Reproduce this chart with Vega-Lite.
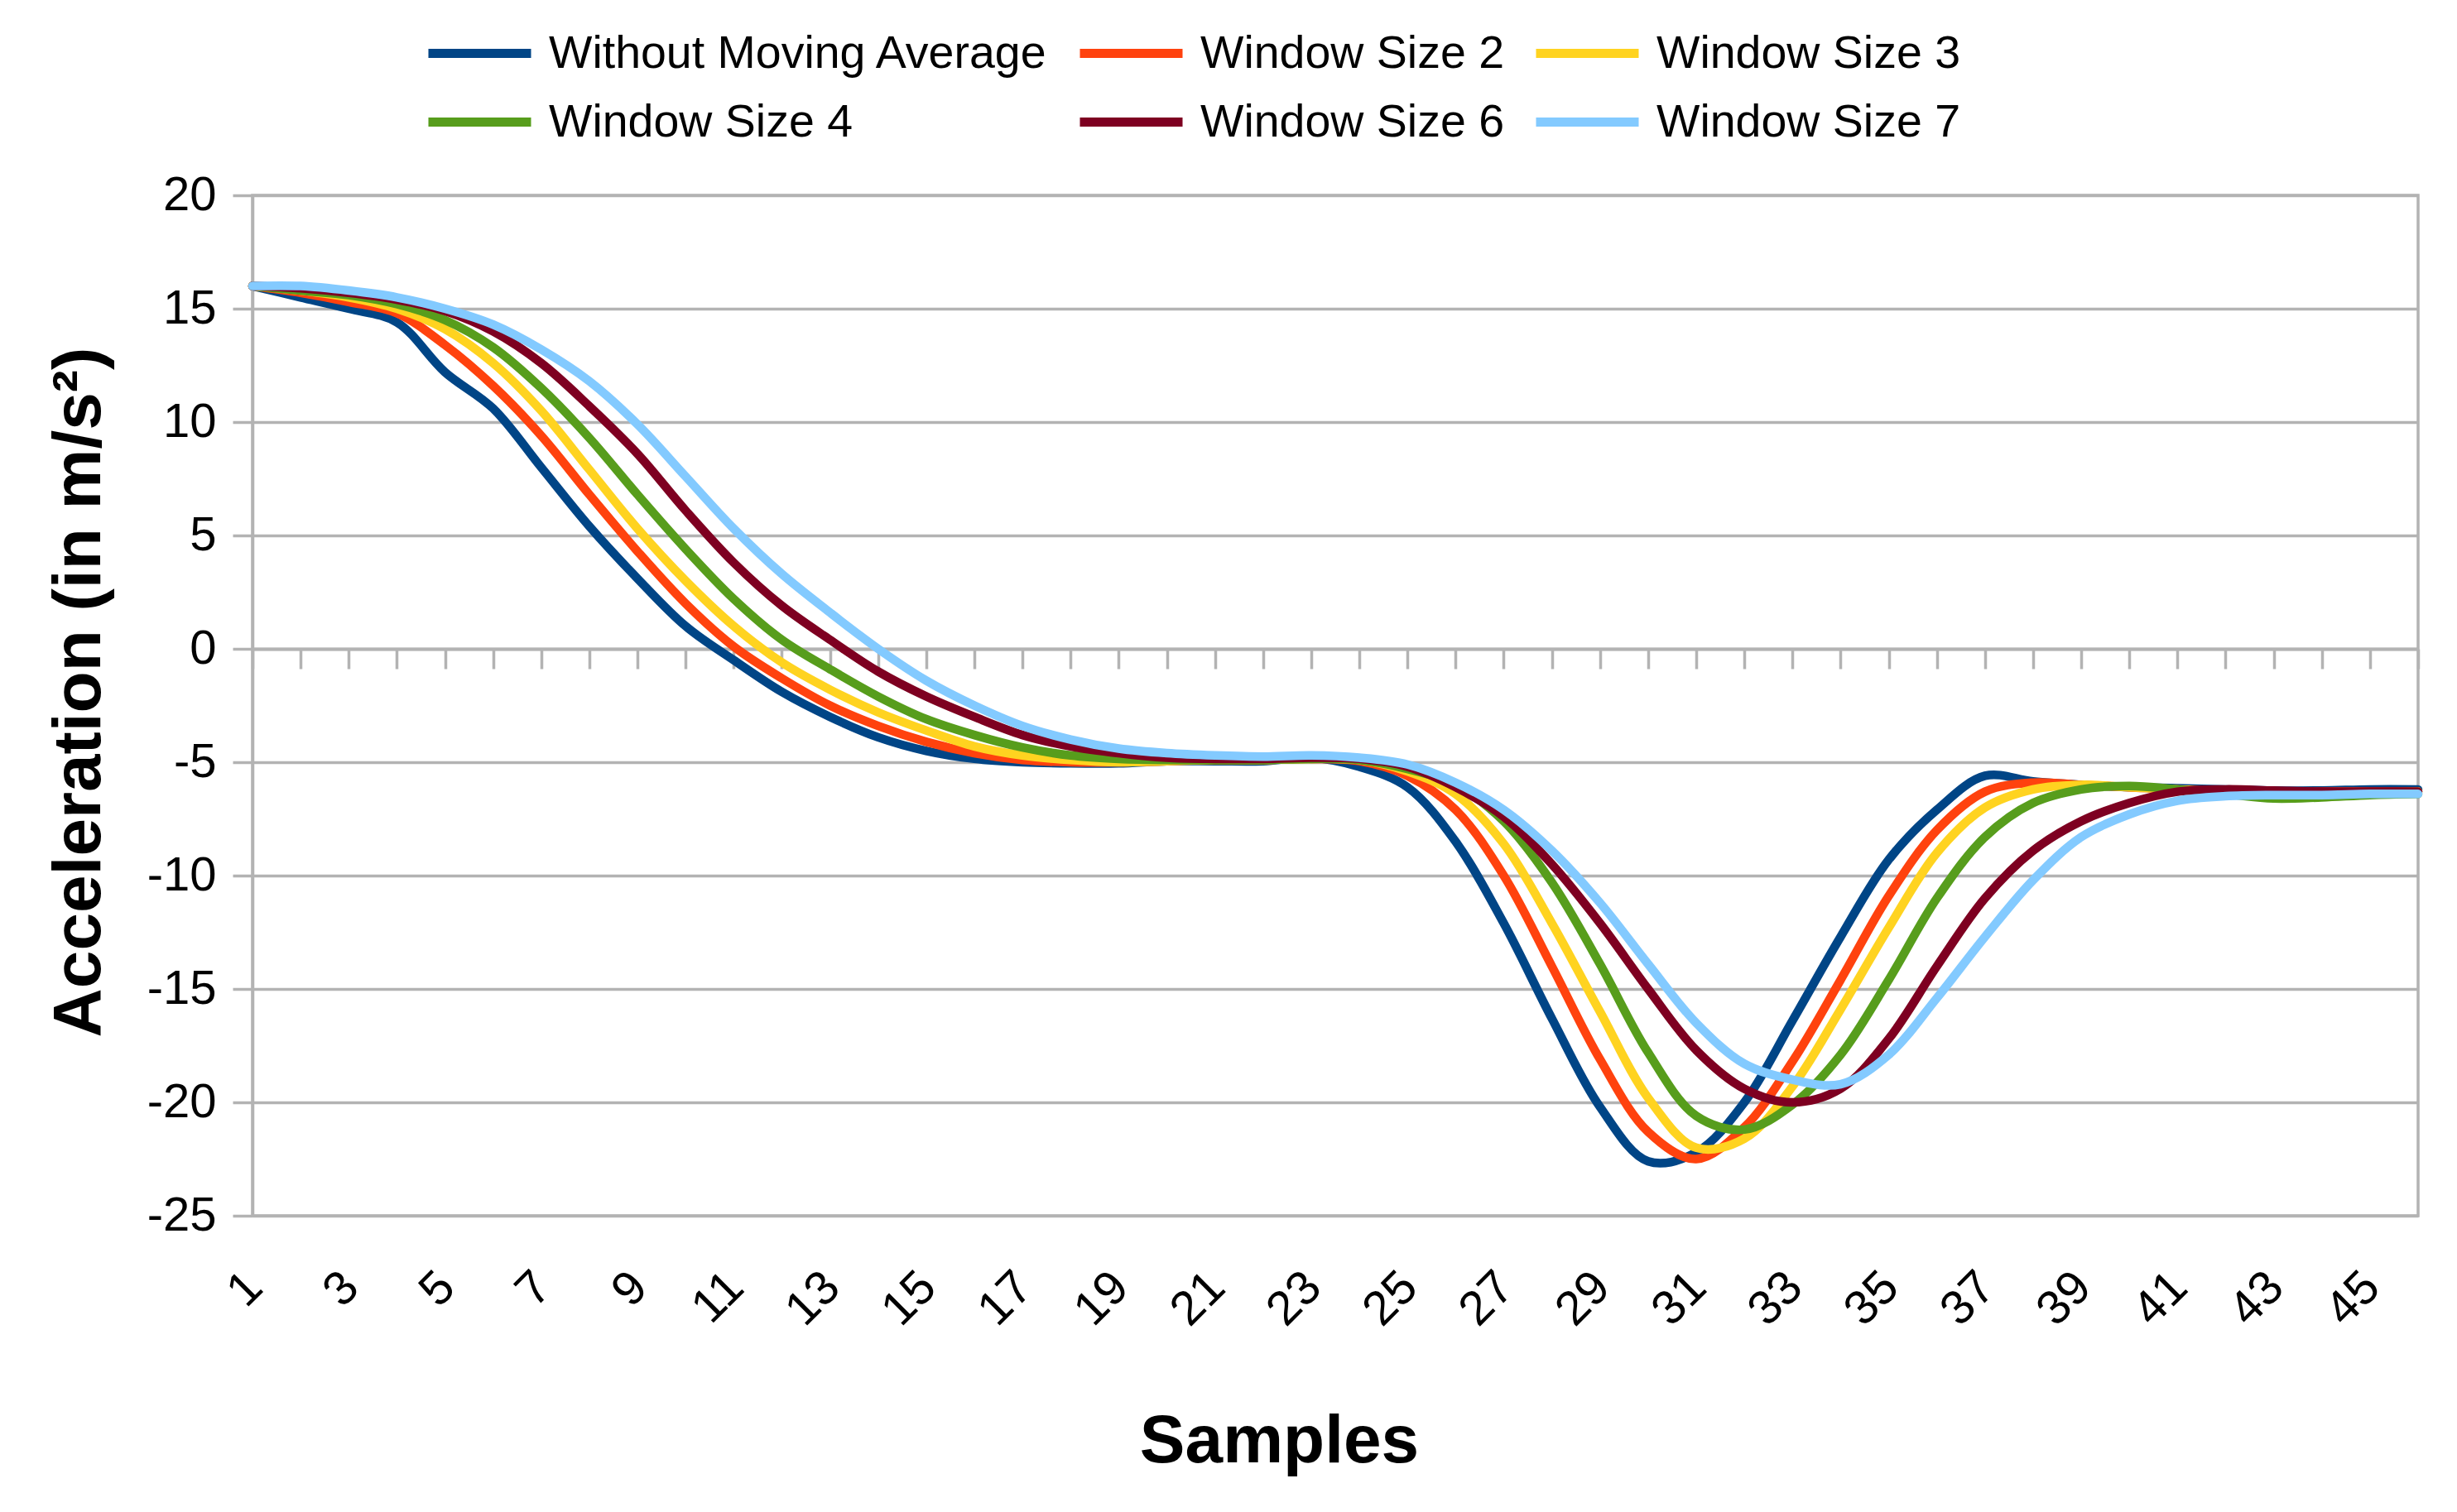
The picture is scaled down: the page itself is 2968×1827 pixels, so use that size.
{
  "$schema": "https://vega.github.io/schema/vega-lite/v6.json",
  "width": 2616,
  "height": 1233,
  "autosize": {"type": "none"},
  "padding": {"left": 305, "top": 236, "right": 47, "bottom": 358},
  "background": "white",
  "datasets": {
    "accel": [
      {"sample": 1, "series": "Without Moving Average", "accel": 16.0},
      {"sample": 2, "series": "Without Moving Average", "accel": 15.5},
      {"sample": 3, "series": "Without Moving Average", "accel": 15.0},
      {"sample": 4, "series": "Without Moving Average", "accel": 14.4},
      {"sample": 5, "series": "Without Moving Average", "accel": 12.2},
      {"sample": 6, "series": "Without Moving Average", "accel": 10.6},
      {"sample": 7, "series": "Without Moving Average", "accel": 8.0},
      {"sample": 8, "series": "Without Moving Average", "accel": 5.4},
      {"sample": 9, "series": "Without Moving Average", "accel": 3.1},
      {"sample": 10, "series": "Without Moving Average", "accel": 1.0},
      {"sample": 11, "series": "Without Moving Average", "accel": -0.5},
      {"sample": 12, "series": "Without Moving Average", "accel": -1.9},
      {"sample": 13, "series": "Without Moving Average", "accel": -3.0},
      {"sample": 14, "series": "Without Moving Average", "accel": -3.9},
      {"sample": 15, "series": "Without Moving Average", "accel": -4.5},
      {"sample": 16, "series": "Without Moving Average", "accel": -4.85},
      {"sample": 17, "series": "Without Moving Average", "accel": -5.0},
      {"sample": 18, "series": "Without Moving Average", "accel": -5.05},
      {"sample": 19, "series": "Without Moving Average", "accel": -5.05},
      {"sample": 20, "series": "Without Moving Average", "accel": -4.95},
      {"sample": 21, "series": "Without Moving Average", "accel": -4.95},
      {"sample": 22, "series": "Without Moving Average", "accel": -4.95},
      {"sample": 23, "series": "Without Moving Average", "accel": -4.8},
      {"sample": 24, "series": "Without Moving Average", "accel": -5.2},
      {"sample": 25, "series": "Without Moving Average", "accel": -6.1},
      {"sample": 26, "series": "Without Moving Average", "accel": -8.5},
      {"sample": 27, "series": "Without Moving Average", "accel": -12.1},
      {"sample": 28, "series": "Without Moving Average", "accel": -16.3},
      {"sample": 29, "series": "Without Moving Average", "accel": -20.2},
      {"sample": 30, "series": "Without Moving Average", "accel": -22.6},
      {"sample": 31, "series": "Without Moving Average", "accel": -22.2},
      {"sample": 32, "series": "Without Moving Average", "accel": -20.0},
      {"sample": 33, "series": "Without Moving Average", "accel": -16.4},
      {"sample": 34, "series": "Without Moving Average", "accel": -12.7},
      {"sample": 35, "series": "Without Moving Average", "accel": -9.3},
      {"sample": 36, "series": "Without Moving Average", "accel": -7.1},
      {"sample": 37, "series": "Without Moving Average", "accel": -5.6},
      {"sample": 38, "series": "Without Moving Average", "accel": -5.85},
      {"sample": 39, "series": "Without Moving Average", "accel": -6.0},
      {"sample": 40, "series": "Without Moving Average", "accel": -6.1},
      {"sample": 41, "series": "Without Moving Average", "accel": -6.15},
      {"sample": 42, "series": "Without Moving Average", "accel": -6.2},
      {"sample": 43, "series": "Without Moving Average", "accel": -6.25},
      {"sample": 44, "series": "Without Moving Average", "accel": -6.25},
      {"sample": 45, "series": "Without Moving Average", "accel": -6.2},
      {"sample": 46, "series": "Without Moving Average", "accel": -6.2},

      {"sample": 1, "series": "Window Size 2", "accel": 16.0},
      {"sample": 2, "series": "Window Size 2", "accel": 15.7},
      {"sample": 3, "series": "Window Size 2", "accel": 15.3},
      {"sample": 4, "series": "Window Size 2", "accel": 14.8},
      {"sample": 5, "series": "Window Size 2", "accel": 13.4},
      {"sample": 6, "series": "Window Size 2", "accel": 11.6},
      {"sample": 7, "series": "Window Size 2", "accel": 9.4},
      {"sample": 8, "series": "Window Size 2", "accel": 6.8},
      {"sample": 9, "series": "Window Size 2", "accel": 4.3},
      {"sample": 10, "series": "Window Size 2", "accel": 2.0},
      {"sample": 11, "series": "Window Size 2", "accel": 0.1},
      {"sample": 12, "series": "Window Size 2", "accel": -1.3},
      {"sample": 13, "series": "Window Size 2", "accel": -2.5},
      {"sample": 14, "series": "Window Size 2", "accel": -3.4},
      {"sample": 15, "series": "Window Size 2", "accel": -4.1},
      {"sample": 16, "series": "Window Size 2", "accel": -4.6},
      {"sample": 17, "series": "Window Size 2", "accel": -4.9},
      {"sample": 18, "series": "Window Size 2", "accel": -5.0},
      {"sample": 19, "series": "Window Size 2", "accel": -5.0},
      {"sample": 20, "series": "Window Size 2", "accel": -4.95},
      {"sample": 21, "series": "Window Size 2", "accel": -4.9},
      {"sample": 22, "series": "Window Size 2", "accel": -4.9},
      {"sample": 23, "series": "Window Size 2", "accel": -4.85},
      {"sample": 24, "series": "Window Size 2", "accel": -4.95},
      {"sample": 25, "series": "Window Size 2", "accel": -5.6},
      {"sample": 26, "series": "Window Size 2", "accel": -7.1},
      {"sample": 27, "series": "Window Size 2", "accel": -10.0},
      {"sample": 28, "series": "Window Size 2", "accel": -14.0},
      {"sample": 29, "series": "Window Size 2", "accel": -18.1},
      {"sample": 30, "series": "Window Size 2", "accel": -21.3},
      {"sample": 31, "series": "Window Size 2", "accel": -22.5},
      {"sample": 32, "series": "Window Size 2", "accel": -21.1},
      {"sample": 33, "series": "Window Size 2", "accel": -18.2},
      {"sample": 34, "series": "Window Size 2", "accel": -14.6},
      {"sample": 35, "series": "Window Size 2", "accel": -10.9},
      {"sample": 36, "series": "Window Size 2", "accel": -8.0},
      {"sample": 37, "series": "Window Size 2", "accel": -6.3},
      {"sample": 38, "series": "Window Size 2", "accel": -5.9},
      {"sample": 39, "series": "Window Size 2", "accel": -6.0},
      {"sample": 40, "series": "Window Size 2", "accel": -6.1},
      {"sample": 41, "series": "Window Size 2", "accel": -6.2},
      {"sample": 42, "series": "Window Size 2", "accel": -6.25},
      {"sample": 43, "series": "Window Size 2", "accel": -6.3},
      {"sample": 44, "series": "Window Size 2", "accel": -6.3},
      {"sample": 45, "series": "Window Size 2", "accel": -6.3},
      {"sample": 46, "series": "Window Size 2", "accel": -6.3},

      {"sample": 1, "series": "Window Size 3", "accel": 16.0},
      {"sample": 2, "series": "Window Size 3", "accel": 15.8},
      {"sample": 3, "series": "Window Size 3", "accel": 15.5},
      {"sample": 4, "series": "Window Size 3", "accel": 15.0},
      {"sample": 5, "series": "Window Size 3", "accel": 14.1},
      {"sample": 6, "series": "Window Size 3", "accel": 12.6},
      {"sample": 7, "series": "Window Size 3", "accel": 10.5},
      {"sample": 8, "series": "Window Size 3", "accel": 7.9},
      {"sample": 9, "series": "Window Size 3", "accel": 5.3},
      {"sample": 10, "series": "Window Size 3", "accel": 3.0},
      {"sample": 11, "series": "Window Size 3", "accel": 1.0},
      {"sample": 12, "series": "Window Size 3", "accel": -0.6},
      {"sample": 13, "series": "Window Size 3", "accel": -1.8},
      {"sample": 14, "series": "Window Size 3", "accel": -2.8},
      {"sample": 15, "series": "Window Size 3", "accel": -3.6},
      {"sample": 16, "series": "Window Size 3", "accel": -4.3},
      {"sample": 17, "series": "Window Size 3", "accel": -4.7},
      {"sample": 18, "series": "Window Size 3", "accel": -4.9},
      {"sample": 19, "series": "Window Size 3", "accel": -5.0},
      {"sample": 20, "series": "Window Size 3", "accel": -4.95},
      {"sample": 21, "series": "Window Size 3", "accel": -4.9},
      {"sample": 22, "series": "Window Size 3", "accel": -4.9},
      {"sample": 23, "series": "Window Size 3", "accel": -4.85},
      {"sample": 24, "series": "Window Size 3", "accel": -4.9},
      {"sample": 25, "series": "Window Size 3", "accel": -5.4},
      {"sample": 26, "series": "Window Size 3", "accel": -6.4},
      {"sample": 27, "series": "Window Size 3", "accel": -8.6},
      {"sample": 28, "series": "Window Size 3", "accel": -12.1},
      {"sample": 29, "series": "Window Size 3", "accel": -16.0},
      {"sample": 30, "series": "Window Size 3", "accel": -19.8},
      {"sample": 31, "series": "Window Size 3", "accel": -22.0},
      {"sample": 32, "series": "Window Size 3", "accel": -21.6},
      {"sample": 33, "series": "Window Size 3", "accel": -19.3},
      {"sample": 34, "series": "Window Size 3", "accel": -15.9},
      {"sample": 35, "series": "Window Size 3", "accel": -12.3},
      {"sample": 36, "series": "Window Size 3", "accel": -9.0},
      {"sample": 37, "series": "Window Size 3", "accel": -7.0},
      {"sample": 38, "series": "Window Size 3", "accel": -6.2},
      {"sample": 39, "series": "Window Size 3", "accel": -6.0},
      {"sample": 40, "series": "Window Size 3", "accel": -6.1},
      {"sample": 41, "series": "Window Size 3", "accel": -6.2},
      {"sample": 42, "series": "Window Size 3", "accel": -6.3},
      {"sample": 43, "series": "Window Size 3", "accel": -6.4},
      {"sample": 44, "series": "Window Size 3", "accel": -6.4},
      {"sample": 45, "series": "Window Size 3", "accel": -6.35},
      {"sample": 46, "series": "Window Size 3", "accel": -6.3},

      {"sample": 1, "series": "Window Size 4", "accel": 16.0},
      {"sample": 2, "series": "Window Size 4", "accel": 15.8},
      {"sample": 3, "series": "Window Size 4", "accel": 15.6},
      {"sample": 4, "series": "Window Size 4", "accel": 15.2},
      {"sample": 5, "series": "Window Size 4", "accel": 14.5},
      {"sample": 6, "series": "Window Size 4", "accel": 13.3},
      {"sample": 7, "series": "Window Size 4", "accel": 11.5},
      {"sample": 8, "series": "Window Size 4", "accel": 9.3},
      {"sample": 9, "series": "Window Size 4", "accel": 6.8},
      {"sample": 10, "series": "Window Size 4", "accel": 4.4},
      {"sample": 11, "series": "Window Size 4", "accel": 2.2},
      {"sample": 12, "series": "Window Size 4", "accel": 0.4},
      {"sample": 13, "series": "Window Size 4", "accel": -0.9},
      {"sample": 14, "series": "Window Size 4", "accel": -2.1},
      {"sample": 15, "series": "Window Size 4", "accel": -3.1},
      {"sample": 16, "series": "Window Size 4", "accel": -3.8},
      {"sample": 17, "series": "Window Size 4", "accel": -4.35},
      {"sample": 18, "series": "Window Size 4", "accel": -4.7},
      {"sample": 19, "series": "Window Size 4", "accel": -4.85},
      {"sample": 20, "series": "Window Size 4", "accel": -4.9},
      {"sample": 21, "series": "Window Size 4", "accel": -4.9},
      {"sample": 22, "series": "Window Size 4", "accel": -4.9},
      {"sample": 23, "series": "Window Size 4", "accel": -4.85},
      {"sample": 24, "series": "Window Size 4", "accel": -4.9},
      {"sample": 25, "series": "Window Size 4", "accel": -5.3},
      {"sample": 26, "series": "Window Size 4", "accel": -6.0},
      {"sample": 27, "series": "Window Size 4", "accel": -7.6},
      {"sample": 28, "series": "Window Size 4", "accel": -10.3},
      {"sample": 29, "series": "Window Size 4", "accel": -13.9},
      {"sample": 30, "series": "Window Size 4", "accel": -17.8},
      {"sample": 31, "series": "Window Size 4", "accel": -20.6},
      {"sample": 32, "series": "Window Size 4", "accel": -21.2},
      {"sample": 33, "series": "Window Size 4", "accel": -20.1},
      {"sample": 34, "series": "Window Size 4", "accel": -17.9},
      {"sample": 35, "series": "Window Size 4", "accel": -14.6},
      {"sample": 36, "series": "Window Size 4", "accel": -11.0},
      {"sample": 37, "series": "Window Size 4", "accel": -8.3},
      {"sample": 38, "series": "Window Size 4", "accel": -6.8},
      {"sample": 39, "series": "Window Size 4", "accel": -6.2},
      {"sample": 40, "series": "Window Size 4", "accel": -6.05},
      {"sample": 41, "series": "Window Size 4", "accel": -6.2},
      {"sample": 42, "series": "Window Size 4", "accel": -6.4},
      {"sample": 43, "series": "Window Size 4", "accel": -6.6},
      {"sample": 44, "series": "Window Size 4", "accel": -6.55},
      {"sample": 45, "series": "Window Size 4", "accel": -6.45},
      {"sample": 46, "series": "Window Size 4", "accel": -6.4},

      {"sample": 1, "series": "Window Size 6", "accel": 16.0},
      {"sample": 2, "series": "Window Size 6", "accel": 15.9},
      {"sample": 3, "series": "Window Size 6", "accel": 15.7},
      {"sample": 4, "series": "Window Size 6", "accel": 15.4},
      {"sample": 5, "series": "Window Size 6", "accel": 14.9},
      {"sample": 6, "series": "Window Size 6", "accel": 14.0},
      {"sample": 7, "series": "Window Size 6", "accel": 12.6},
      {"sample": 8, "series": "Window Size 6", "accel": 10.7},
      {"sample": 9, "series": "Window Size 6", "accel": 8.6},
      {"sample": 10, "series": "Window Size 6", "accel": 6.1},
      {"sample": 11, "series": "Window Size 6", "accel": 3.8},
      {"sample": 12, "series": "Window Size 6", "accel": 1.9},
      {"sample": 13, "series": "Window Size 6", "accel": 0.4},
      {"sample": 14, "series": "Window Size 6", "accel": -1.0},
      {"sample": 15, "series": "Window Size 6", "accel": -2.1},
      {"sample": 16, "series": "Window Size 6", "accel": -3.0},
      {"sample": 17, "series": "Window Size 6", "accel": -3.8},
      {"sample": 18, "series": "Window Size 6", "accel": -4.3},
      {"sample": 19, "series": "Window Size 6", "accel": -4.6},
      {"sample": 20, "series": "Window Size 6", "accel": -4.8},
      {"sample": 21, "series": "Window Size 6", "accel": -4.85},
      {"sample": 22, "series": "Window Size 6", "accel": -4.85},
      {"sample": 23, "series": "Window Size 6", "accel": -4.8},
      {"sample": 24, "series": "Window Size 6", "accel": -4.85},
      {"sample": 25, "series": "Window Size 6", "accel": -5.2},
      {"sample": 26, "series": "Window Size 6", "accel": -6.1},
      {"sample": 27, "series": "Window Size 6", "accel": -7.4},
      {"sample": 28, "series": "Window Size 6", "accel": -9.5},
      {"sample": 29, "series": "Window Size 6", "accel": -12.1},
      {"sample": 30, "series": "Window Size 6", "accel": -15.0},
      {"sample": 31, "series": "Window Size 6", "accel": -17.7},
      {"sample": 32, "series": "Window Size 6", "accel": -19.4},
      {"sample": 33, "series": "Window Size 6", "accel": -20.0},
      {"sample": 34, "series": "Window Size 6", "accel": -19.4},
      {"sample": 35, "series": "Window Size 6", "accel": -17.2},
      {"sample": 36, "series": "Window Size 6", "accel": -14.0},
      {"sample": 37, "series": "Window Size 6", "accel": -11.0},
      {"sample": 38, "series": "Window Size 6", "accel": -8.9},
      {"sample": 39, "series": "Window Size 6", "accel": -7.6},
      {"sample": 40, "series": "Window Size 6", "accel": -6.8},
      {"sample": 41, "series": "Window Size 6", "accel": -6.3},
      {"sample": 42, "series": "Window Size 6", "accel": -6.2},
      {"sample": 43, "series": "Window Size 6", "accel": -6.25},
      {"sample": 44, "series": "Window Size 6", "accel": -6.3},
      {"sample": 45, "series": "Window Size 6", "accel": -6.3},
      {"sample": 46, "series": "Window Size 6", "accel": -6.3},

      {"sample": 1, "series": "Window Size 7", "accel": 16.0},
      {"sample": 2, "series": "Window Size 7", "accel": 16.0},
      {"sample": 3, "series": "Window Size 7", "accel": 15.8},
      {"sample": 4, "series": "Window Size 7", "accel": 15.5},
      {"sample": 5, "series": "Window Size 7", "accel": 15.0},
      {"sample": 6, "series": "Window Size 7", "accel": 14.3},
      {"sample": 7, "series": "Window Size 7", "accel": 13.2},
      {"sample": 8, "series": "Window Size 7", "accel": 11.8},
      {"sample": 9, "series": "Window Size 7", "accel": 9.9},
      {"sample": 10, "series": "Window Size 7", "accel": 7.6},
      {"sample": 11, "series": "Window Size 7", "accel": 5.3},
      {"sample": 12, "series": "Window Size 7", "accel": 3.3},
      {"sample": 13, "series": "Window Size 7", "accel": 1.6},
      {"sample": 14, "series": "Window Size 7", "accel": 0.0},
      {"sample": 15, "series": "Window Size 7", "accel": -1.4},
      {"sample": 16, "series": "Window Size 7", "accel": -2.5},
      {"sample": 17, "series": "Window Size 7", "accel": -3.4},
      {"sample": 18, "series": "Window Size 7", "accel": -4.0},
      {"sample": 19, "series": "Window Size 7", "accel": -4.4},
      {"sample": 20, "series": "Window Size 7", "accel": -4.6},
      {"sample": 21, "series": "Window Size 7", "accel": -4.7},
      {"sample": 22, "series": "Window Size 7", "accel": -4.75},
      {"sample": 23, "series": "Window Size 7", "accel": -4.7},
      {"sample": 24, "series": "Window Size 7", "accel": -4.8},
      {"sample": 25, "series": "Window Size 7", "accel": -5.1},
      {"sample": 26, "series": "Window Size 7", "accel": -5.9},
      {"sample": 27, "series": "Window Size 7", "accel": -7.1},
      {"sample": 28, "series": "Window Size 7", "accel": -8.9},
      {"sample": 29, "series": "Window Size 7", "accel": -11.2},
      {"sample": 30, "series": "Window Size 7", "accel": -13.9},
      {"sample": 31, "series": "Window Size 7", "accel": -16.5},
      {"sample": 32, "series": "Window Size 7", "accel": -18.3},
      {"sample": 33, "series": "Window Size 7", "accel": -19.0},
      {"sample": 34, "series": "Window Size 7", "accel": -19.2},
      {"sample": 35, "series": "Window Size 7", "accel": -17.9},
      {"sample": 36, "series": "Window Size 7", "accel": -15.4},
      {"sample": 37, "series": "Window Size 7", "accel": -12.7},
      {"sample": 38, "series": "Window Size 7", "accel": -10.2},
      {"sample": 39, "series": "Window Size 7", "accel": -8.3},
      {"sample": 40, "series": "Window Size 7", "accel": -7.3},
      {"sample": 41, "series": "Window Size 7", "accel": -6.7},
      {"sample": 42, "series": "Window Size 7", "accel": -6.5},
      {"sample": 43, "series": "Window Size 7", "accel": -6.45},
      {"sample": 44, "series": "Window Size 7", "accel": -6.45},
      {"sample": 45, "series": "Window Size 7", "accel": -6.4},
      {"sample": 46, "series": "Window Size 7", "accel": -6.4}
    ]
  },
  "data": {"name": "accel"},
  "mark": {"type": "line", "interpolate": "catmull-rom", "strokeWidth": 10.5, "strokeCap": "round", "strokeJoin": "round"},
  "encoding": {
    "x": {
      "field": "sample",
      "type": "quantitative",
      "scale": {"domain": [1, 46], "nice": false, "zero": false},
      "axis": {
        "values": [1,2,3,4,5,6,7,8,9,10,11,12,13,14,15,16,17,18,19,20,21,22,23,24,25,26,27,28,29,30,31,32,33,34,35,36,37,38,39,40,41,42,43,44,45,46],
        "labelExpr": "datum.value % 2 == 1 ? datum.label : ''",
        "labelAngle": -45,
        "labelOverlap": false,
        "labelFlush": false,
        "labelBound": false,
        "labelOffset": -18,
        "offset": -685,
        "tickSize": 24,
        "labelPadding": 718,
        "grid": false,
        "domain": true,
        "domainWidth": 4,
        "title": "Samples",
        "titleBaseline": "middle",
        "titleY": 957,
        "titleX": 1240
      }
    },
    "y": {
      "field": "accel",
      "type": "quantitative",
      "scale": {"domain": [-25, 20], "nice": false, "zero": false},
      "axis": {
        "values": [-25, -20, -15, -10, -5, 0, 5, 10, 15, 20],
        "labelExpr": "'' + datum.value",
        "grid": true,
        "tickSize": 24,
        "labelPadding": 20,
        "title": "Acceleration (in m/s²)",
        "titlePadding": 40,
        "titleY": 600
      }
    },
    "color": {
      "field": "series",
      "type": "nominal",
      "scale": {
        "domain": ["Without Moving Average", "Window Size 2", "Window Size 3", "Window Size 4", "Window Size 6", "Window Size 7"],
        "range": ["#004586", "#ff420e", "#ffd320", "#579d1c", "#7e0021", "#83caff"]
      },
      "legend": {
        "orient": "none",
        "legendX": 238,
        "legendY": -208,
        "direction": "horizontal",
        "columns": 3,
        "title": null,
        "symbolType": "M-2,0H2",
        "symbolSize": 3844,
        "symbolStrokeWidth": 11,
        "labelOffset": 47,
        "columnPadding": 15,
        "rowPadding": 18,
        "padding": 0
      }
    }
  },
  "config": {
    "font": "Liberation Sans",
    "view": {"stroke": "#b3b3b3", "strokeWidth": 3.5},
    "axis": {
      "labelFont": "Liberation Sans",
      "labelFontSize": 58,
      "labelColor": "#000000",
      "titleFont": "Liberation Sans",
      "titleFontSize": 82,
      "titleFontWeight": "bold",
      "titleColor": "#000000",
      "gridColor": "#b3b3b3",
      "gridWidth": 3.5,
      "domainColor": "#b3b3b3",
      "domainWidth": 3.5,
      "tickColor": "#b3b3b3",
      "tickWidth": 3.5
    },
    "legend": {
      "labelFont": "Liberation Sans",
      "labelFontSize": 55.5,
      "labelColor": "#000000",
      "labelLimit": 2000
    }
  }
}
